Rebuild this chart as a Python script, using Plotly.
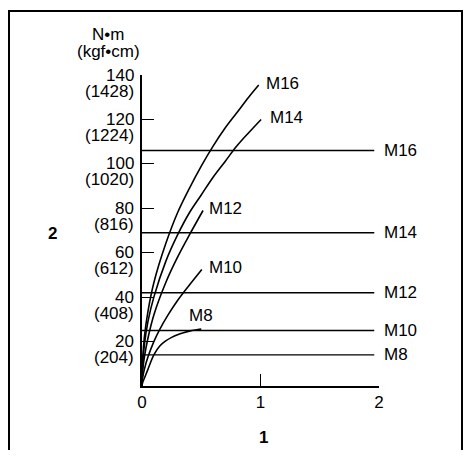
import plotly.graph_objects as go

# Tightening torque chart: curves per bolt size plus horizontal limit lines

# page body adds an 8px margin, so the figure is sized to fit the window exactly
W, H = 455, 442
# pixel frame of the plot area (x: 0..2, y: 0..140)
PLOT_L, PLOT_R = 134, 371
PLOT_T, PLOT_B = 67, 378

FONT = "Liberation Sans, Arial, sans-serif"
FS = 17

sizes = ["M8", "M10", "M12", "M14", "M16"]

# horizontal limit lines, N·m
limit_values = [14, 25, 42, 69, 106]
limit_x_end = 1.96

# curves
m8_x = [0, 0.005, 0.02, 0.05, 0.1, 0.15, 0.2, 0.25, 0.3, 0.35, 0.4, 0.45, 0.5]
m8_y = [0, 1.5, 3.5, 7.5, 14, 18, 20.3, 21.9, 23.1, 24, 24.7, 25.2, 25.6]

m10_x = [0, 0.005, 0.02, 0.05, 0.1, 0.15, 0.22, 0.3, 0.4, 0.505]
m10_y = [0, 3.5, 7.5, 13, 20, 25.5, 32, 38.5, 45.5, 52.5]

m12_x = [0, 0.005, 0.02, 0.05, 0.1, 0.2, 0.3, 0.4, 0.515]
m12_y = [0, 6.5, 13, 21.5, 32, 46.5, 58, 68, 79]

m14_x = [0, 0.005, 0.02, 0.05, 0.1, 0.2, 0.3, 0.4, 0.5, 0.6, 0.7, 0.8, 0.9, 1.005]
m14_y = [0, 9.5, 18.5, 29, 40, 56, 68, 78, 86, 94, 101, 108, 114, 120]

m16_x = [0, 0.005, 0.02, 0.05, 0.1, 0.2, 0.3, 0.4, 0.5, 0.6, 0.7, 0.8, 0.9, 0.985]
m16_y = [0, 11, 22, 33.5, 46.5, 64, 78, 89, 99, 108, 116, 123, 130, 135.5]

curves_x = [m8_x, m10_x, m12_x, m14_x, m16_x]
curves_y = [m8_y, m10_y, m12_y, m14_y, m16_y]

y_ticks = [20, 40, 60, 80, 100, 120, 140]
y_ticks_kgf = ["(204)", "(408)", "(612)", "(816)", "(1020)", "(1224)", "(1428)"]
x_ticks = [0, 1, 2]


def px_x(px):
    return (px - PLOT_L) / (PLOT_R - PLOT_L)


def px_y(py):
    return (PLOT_B - py) / (PLOT_B - PLOT_T)


fig = go.Figure()

for xs, ys in zip(curves_x, curves_y):
    fig.add_trace(go.Scatter(x=xs, y=ys, mode="lines", line=dict(color="black", width=1.6, shape="spline"),
                             cliponaxis=False, hoverinfo="skip"))

for v in limit_values:
    fig.add_trace(go.Scatter(x=[0, limit_x_end], y=[v, v], mode="lines", line=dict(color="black", width=1.4),
                             cliponaxis=False, hoverinfo="skip"))

ann = []
# curve end labels
curve_shift = {"M8": None, "M10": 5, "M12": 4, "M14": 7, "M16": 5}
for name, xs, ys in zip(sizes, curves_x, curves_y):
    if name == "M8":
        ann.append(dict(x=xs[-1], y=ys[-1], text=name, xanchor="center", yanchor="bottom", yshift=2))
    else:
        ann.append(dict(x=xs[-1], y=ys[-1], text=name, xanchor="left", yanchor="middle",
                        xshift=curve_shift[name], yshift=2))

# limit line labels
for name, v in zip(sizes, limit_values):
    ann.append(dict(x=limit_x_end, y=v, text=name, xanchor="left", yanchor="middle", xshift=8))

# y tick labels, two lines
for v, k in zip(y_ticks, y_ticks_kgf):
    ann.append(dict(x=0, xref="paper", y=v, text=str(v), xanchor="right", yanchor="middle", xshift=-6))
    ann.append(dict(x=0, xref="paper", y=v, text=k, xanchor="right", yanchor="middle", xshift=-6, yshift=-16))

# unit header and axis numbers
ann.append(dict(x=px_x(100), y=px_y(27), xref="paper", yref="paper", text="N•m"))
ann.append(dict(x=px_x(100), y=px_y(43), xref="paper", yref="paper", text="(kgf•cm)"))
ann.append(dict(x=px_x(44), y=px_y(225), xref="paper", yref="paper", text="<b>2</b>"))
ann.append(dict(x=px_x(255), y=px_y(429), xref="paper", yref="paper", text="<b>1</b>"))

for a in ann:
    a.setdefault("xref", "x")
    a.setdefault("yref", "y")
    a.setdefault("xanchor", "center")
    a.setdefault("yanchor", "middle")
    a["showarrow"] = False
    a["font"] = dict(family=FONT, size=FS, color="black")

# frame around the drawing, open at the bottom
FRAME_TOP = 3
fl, fr = px_x(1), px_x(W - 1)
ft, fb = px_y(FRAME_TOP), px_y(H)
shapes = [
    dict(type="path", xref="paper", yref="paper",
         path=f"M {fl},{fb} L {fl},{ft} L {fr},{ft} L {fr},{fb}",
         line=dict(color="black", width=2)),
]

fig.update_layout(
    width=W,
    height=H,
    margin=dict(l=PLOT_L, r=W - PLOT_R, t=PLOT_T, b=H - PLOT_B),
    paper_bgcolor="white",
    plot_bgcolor="white",
    showlegend=False,
    annotations=ann,
    shapes=shapes,
    font=dict(family=FONT, size=FS, color="black"),
    xaxis=dict(
        range=[0, 2], showgrid=False, zeroline=False, showline=True, linecolor="black", linewidth=1.5,
        ticks="inside", tickvals=x_ticks, ticklen=12, tickwidth=1.3, tickcolor="black",
        tickfont=dict(family=FONT, size=FS), fixedrange=True,
    ),
    yaxis=dict(
        range=[0, 140], showgrid=False, zeroline=False, showline=True, linecolor="black", linewidth=1.5,
        ticks="inside", tickvals=y_ticks, ticklen=12, tickwidth=1.3, tickcolor="black",
        showticklabels=False, fixedrange=True,
    ),
)

fig.write_html("out.html")
